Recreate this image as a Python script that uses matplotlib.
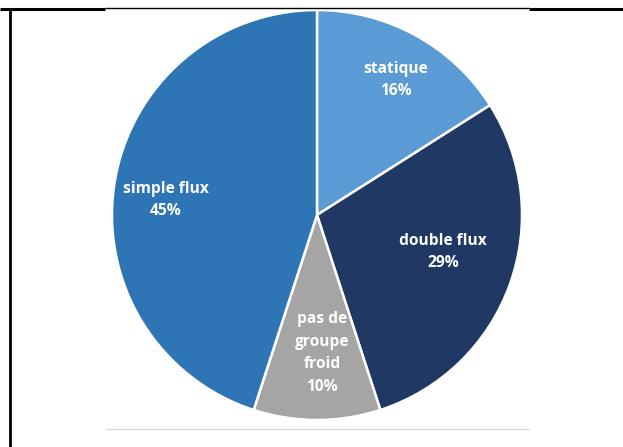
import numpy as np
import matplotlib
matplotlib.use('Agg')
import matplotlib.pyplot as plt

# --- data ---
labels = ["statique", "double flux", "pas de\ngroupe\nfroid", "simple flux"]
values = [16, 29, 10, 45]
colors = ["#5b9bd5", "#203864", "#a5a5a5", "#2e75b6"]
label_r = [0.763, 0.64, 0.673, 0.74]    # label distance per slice (fraction of radius)
label_da = [-1.5, 3.4, 2.1, 3.3]        # label angle offset from slice middle (deg)

W, H = 623, 447
fig = plt.figure(figsize=(W / 100, H / 100), dpi=100)
ax = fig.add_axes([0, 0, 1, 1])

cx, cy, R = 317, H - 215, 205
wedges, _ = ax.pie(values, colors=colors, startangle=90, counterclock=False,
                   center=(cx, cy), radius=R, frame=True,
                   wedgeprops=dict(edgecolor='white', linewidth=1.8))
ax.set_xlim(0, W)
ax.set_ylim(0, H)
ax.set_aspect('equal')
ax.axis('off')

for w, lab, v, rf, da in zip(wedges, labels, values, label_r, label_da):
    ang = np.deg2rad((w.theta1 + w.theta2) / 2 + da)
    x = cx + rf * R * np.cos(ang)
    y = cy + rf * R * np.sin(ang)
    ax.text(x, y, f"{lab}\n{v}%", ha='center', va='center', color='white',
            fontsize=11.2, fontweight='bold', family='Open Sans', linespacing=1.55)

# table borders around the chart
ax.plot([0, 105], [H - 9, H - 9], color='black', lw=2.2, solid_capstyle='butt')
ax.plot([105, 529], [H - 8, H - 8], color='black', lw=1, solid_capstyle='butt')
ax.plot([529, W], [H - 9, H - 9], color='black', lw=2.2, solid_capstyle='butt')
ax.plot([10, 10], [0, H - 9], color='black', lw=2, solid_capstyle='butt')
ax.plot([105, 529], [H - 429, H - 429], color='#d9d9d9', lw=1, solid_capstyle='butt')

fig.savefig("out.png", dpi=100)
